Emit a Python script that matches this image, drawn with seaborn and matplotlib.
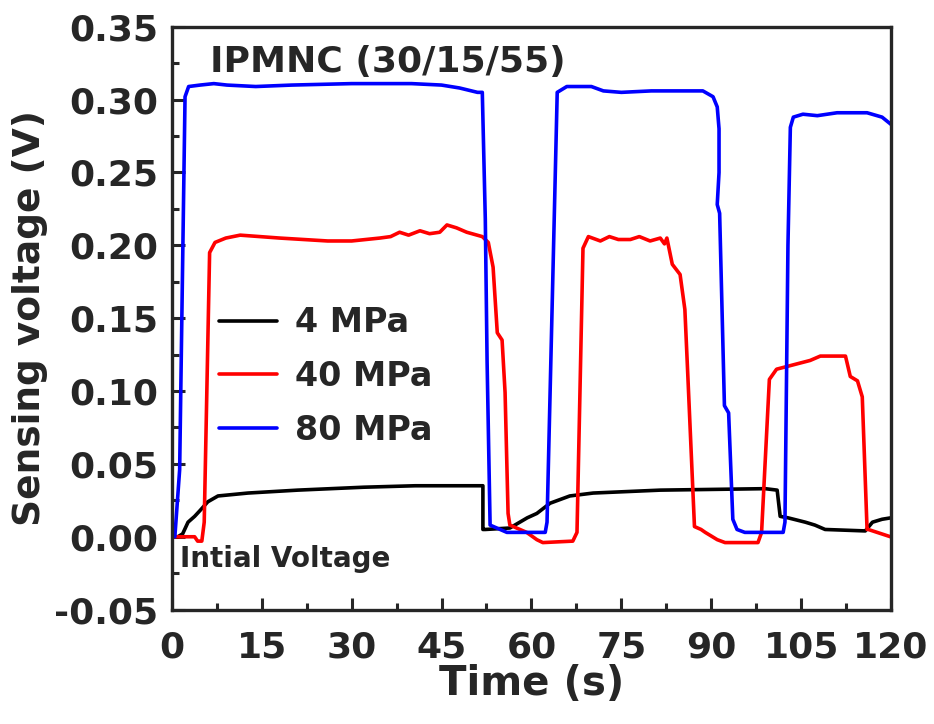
import numpy as np
import pandas as pd
import matplotlib
matplotlib.use('Agg')
import matplotlib.pyplot as plt
import seaborn as sns
from matplotlib.ticker import MultipleLocator, FormatStrFormatter

# --- data (time in s, voltage in V) ---
t_4mpa = [0, 1.0, 1.8, 2.7, 3.8, 4.7, 6.0, 7.7, 12.7, 21, 32, 40.6, 51.9, 51.9, 52.3,
          56.4, 59.3, 60.9, 63.1, 66.4, 70.3, 81.5, 99, 101, 101.5, 102.8, 105.7,
          107.3, 109, 115.7, 116.9, 118.5, 120]
v_4mpa = [0, 0.0, 0.002, 0.010, 0.014, 0.018, 0.024, 0.028, 0.030, 0.032, 0.034, 0.035,
          0.035, 0.005, 0.005, 0.006, 0.013, 0.016, 0.023, 0.028, 0.030, 0.032, 0.033,
          0.032, 0.014, 0.013, 0.010, 0.008, 0.005, 0.004, 0.010, 0.012, 0.013]

t_40mpa = [0.2, 3.8, 4.3, 5.0, 5.4, 6.3, 7.2, 9, 11.4, 14.7, 18, 22, 26, 30, 34.7, 36.5,
           38, 39.5, 41.4, 43, 44.7, 45.9, 47.5, 49.2, 51.8, 52.8, 53.6, 54.3, 55.1,
           55.6, 56.1, 56.4, 59.2, 60.9, 61.9, 66.9, 67.6, 68.6, 69.5, 71.5, 73, 74.5,
           76.5, 78, 79.8, 81.5, 82.2, 82.6, 83.5, 84.8, 85.6, 86.1, 87.2, 88.3, 89,
           91, 92.3, 97.8, 98.4, 99.7, 100.9, 103.7, 106.5, 108.2, 112.4, 113.2, 114.4,
           115.2, 116.0, 116.2, 119.9]
v_40mpa = [0, 0, -0.003, -0.003, 0.01, 0.195, 0.202, 0.205, 0.207, 0.206, 0.205, 0.204,
           0.203, 0.203, 0.205, 0.206, 0.209, 0.207, 0.210, 0.208, 0.209, 0.214, 0.212,
           0.209, 0.206, 0.202, 0.185, 0.140, 0.135, 0.099, 0.016, 0.008, 0.003, -0.002,
           -0.004, -0.003, 0.003, 0.198, 0.206, 0.203, 0.206, 0.204, 0.204, 0.206,
           0.203, 0.205, 0.201, 0.205, 0.187, 0.180, 0.156, 0.110, 0.007, 0.005, 0.003,
           -0.002, -0.004, -0.004, 0.003, 0.108, 0.115, 0.118, 0.121, 0.124, 0.124,
           0.110, 0.107, 0.096, 0.005, 0.005, 0.0]

t_80mpa = [0.2, 0.5, 1.3, 2.2, 2.8, 4.7, 7, 9.2, 14, 20, 30, 40, 45, 48, 51, 51.8, 52.3,
           52.6, 53.1, 55.9, 62.3, 62.6, 64.3, 65.9, 70, 72, 75, 80, 85, 88.6, 90.3,
           91.0, 91.3, 91.3, 91.0, 91.4, 92.2, 92.9, 93.6, 94.3, 95.6, 102.0, 102.3,
           102.8, 103.2, 103.7, 105.3, 107.7, 111, 116, 118.5, 120]
v_80mpa = [0, 0, 0.046, 0.302, 0.309, 0.310, 0.311, 0.310, 0.309, 0.310, 0.311, 0.311,
           0.310, 0.308, 0.305, 0.305, 0.218, 0.120, 0.008, 0.003, 0.003, 0.010, 0.305,
           0.309, 0.309, 0.306, 0.305, 0.306, 0.306, 0.306, 0.302, 0.295, 0.280, 0.250,
           0.228, 0.222, 0.090, 0.085, 0.012, 0.005, 0.003, 0.003, 0.010, 0.200, 0.281,
           0.288, 0.290, 0.289, 0.291, 0.291, 0.288, 0.283]

labels = ['4 MPa', '40 MPa', '80 MPa']
colors = ['#000000', '#ff0000', '#0000ff']

df = pd.concat([
    pd.DataFrame({'Time': t_4mpa, 'Voltage': v_4mpa, 'Sample': labels[0]}),
    pd.DataFrame({'Time': t_40mpa, 'Voltage': v_40mpa, 'Sample': labels[1]}),
    pd.DataFrame({'Time': t_80mpa, 'Voltage': v_80mpa, 'Sample': labels[2]}),
], ignore_index=True)

sns.set_style('ticks')
plt.rcParams['font.family'] = ['DejaVu Sans']
plt.rcParams['font.weight'] = 'bold'
plt.rcParams['axes.unicode_minus'] = False

fig = plt.figure(figsize=(9.34, 7.24), dpi=100)
ax = fig.add_axes([0.184, 0.158, 0.770, 0.805])

sns.lineplot(data=df, x='Time', y='Voltage', hue='Sample', palette=colors,
             sort=False, estimator=None, linewidth=2.6, ax=ax)

ax.set_xlim(0, 120)
ax.set_ylim(-0.05, 0.35)
ax.xaxis.set_major_locator(MultipleLocator(15))
ax.xaxis.set_minor_locator(MultipleLocator(7.5))
ax.yaxis.set_major_locator(MultipleLocator(0.05))
ax.yaxis.set_minor_locator(MultipleLocator(0.025))
ax.yaxis.set_major_formatter(FormatStrFormatter('%.2f'))
ax.tick_params(which='both', direction='in', width=2.2, top=False, right=False)
ax.tick_params(which='major', length=9, labelsize=26)
ax.tick_params(which='minor', length=5)
ax.tick_params(axis='y', which='major', pad=10)
ax.tick_params(axis='x', which='major', pad=15)
for lab in ax.get_xticklabels() + ax.get_yticklabels():
    lab.set_fontweight('bold')
for sp in ax.spines.values():
    sp.set_linewidth(2.4)

ax.set_xlabel('Time (s)', fontsize=29, fontweight='bold', labelpad=0)
ax.set_ylabel('Sensing voltage (V)', fontsize=27, fontweight='bold', labelpad=4)

ax.text(0.053, 0.94, 'IPMNC (30/15/55)', transform=ax.transAxes, fontsize=26,
        fontweight='bold', ha='left', va='center')
ax.text(0.011, 0.086, 'Intial Voltage', transform=ax.transAxes, fontsize=20,
        fontweight='bold', ha='left', va='center')

leg = ax.legend(loc='center left', bbox_to_anchor=(0.065, 0.40), frameon=False,
                fontsize=24, handlelength=1.75, handletextpad=0.55, labelspacing=0.62,
                borderpad=0, borderaxespad=0)
for txt in leg.get_texts():
    txt.set_fontweight('bold')
for line in leg.get_lines():
    line.set_linewidth(2.6)

fig.savefig('out.png', dpi=100)
